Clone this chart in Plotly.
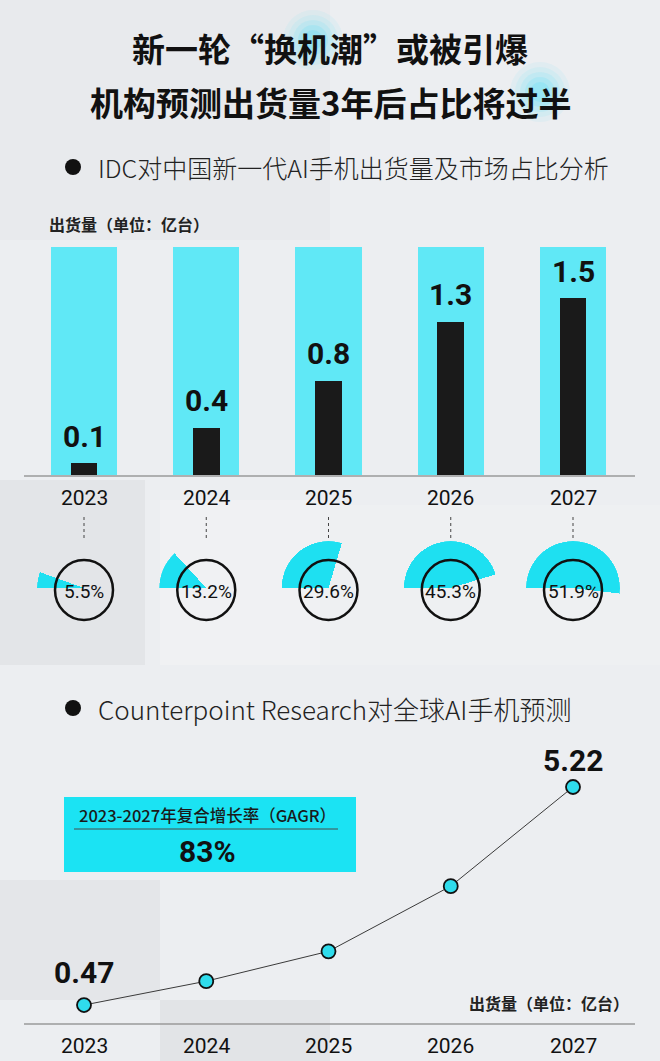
import plotly.graph_objects as go

W, H = 660, 1061

# ---------------- data ----------------
years = ["2023", "2024", "2025", "2026", "2027"]
idc_shipments = [0.1, 0.4, 0.8, 1.3, 1.5]          # 亿台
idc_share_pct = [5.5, 13.2, 29.6, 45.3, 51.9]       # %
cp_shipments = [0.47, 0.99, 1.64, 3.06, 5.22]       # 亿台
bg_bar_height = 1.93                                 # decorative full-height cyan bar
cagr_text = "83%"

title_1 = "新一轮“换机潮”或被引爆"
title_2 = "机构预测出货量3年后占比将过半"
section_1 = "IDC对中国新一代AI手机出货量及市场占比分析"
section_2 = "Counterpoint Research对全球AI手机预测"
unit_text = "出货量（单位：亿台）"
cagr_label = "2023-2027年复合增长率（GAGR）"

# ---------------- styles ----------------
CJK = "Noto Sans CJK SC"
COND = "Roboto"
CYAN_BG = "#60e8f6"
CYAN = "#1ee0f1"
BLACK = "#1a1a1a"
BG = "#eceef1"


def fy(px):
    return 1 - px / H


def fx(px):
    return px / W


X0, DX = 84, 122.25
xr = [-X0 / DX, -X0 / DX + W / DX]
idx = list(range(len(years)))

fig = go.Figure()

fig.add_trace(go.Bar(x=idx, y=[bg_bar_height] * len(years), width=0.54,
                     marker=dict(color=CYAN_BG, line=dict(width=0)),
                     hoverinfo="skip", xaxis="x", yaxis="y"))
fig.add_trace(go.Bar(x=idx, y=idc_shipments, width=0.22,
                     marker=dict(color=BLACK, line=dict(width=0)),
                     xaxis="x", yaxis="y"))

fig.add_trace(go.Scatter(x=idx, y=cp_shipments, mode="lines+markers",
                         line=dict(color="#3a3a3a", width=1),
                         marker=dict(size=14, color="#2fdcec", line=dict(color="#111", width=1.8)),
                         xaxis="x2", yaxis="y2"))

layout_polars = {}
for i, p in enumerate(idc_share_pct):
    name = "polar" if i == 0 else f"polar{i + 1}"
    span = p / 100 * 360
    fig.add_trace(go.Barpolar(r=[1], theta=[span / 2], width=[span],
                              marker=dict(color=CYAN, line=dict(width=0)),
                              subplot=name, hoverinfo="skip"))
    cx, cy, R = X0 + DX * i, 588, 47
    layout_polars[name] = dict(
        domain=dict(x=[fx(cx - R), fx(cx + R)], y=[fy(cy + R), fy(cy - R)]),
        bgcolor="rgba(0,0,0,0)",
        radialaxis=dict(visible=False, range=[0, 1]),
        angularaxis=dict(visible=False, rotation=180, direction="clockwise",
                         showgrid=False, showline=False),
    )

shapes = []
annotations = []


def ann(x, y, text, size, family=CJK, weight="normal", xanchor="center", xref="paper", color="#111"):
    annotations.append(dict(x=x, y=y, xref=xref, yref="paper", text=text, showarrow=False,
                            xanchor=xanchor, yanchor="middle",
                            font=dict(family=family, size=size, color=color, weight=weight)))


for (x0, y0, x1, y1, c) in [
    (0, 0, 330, 240, "#e8eaed"),
    (0, 480, 145, 665, "#e3e5e8"),
    (160, 500, 320, 665, "#f0f1f3"),
    (320, 505, 660, 665, "#eef0f2"),
    (0, 880, 160, 1000, "#e4e6e9"),
    (160, 1000, 330, 1061, "#e2e4e7"),
]:
    shapes.append(dict(type="rect", xref="paper", yref="paper", layer="below",
                       x0=fx(x0), x1=fx(x1), y0=fy(y1), y1=fy(y0),
                       fillcolor=c, line=dict(width=0)))

for gx, gy in [(313, 40), (540, 92)]:
    for r, a in [(30, 0.05), (25, 0.06), (20, 0.08), (15, 0.10), (10, 0.12)]:
        shapes.append(dict(type="circle", xref="paper", yref="paper", layer="below",
                           x0=fx(gx - r), x1=fx(gx + r), y0=fy(gy + r), y1=fy(gy - r),
                           fillcolor=f"rgba(0,215,255,{a})", line=dict(width=0)))

for yy in (476, 1024):
    shapes.append(dict(type="line", xref="paper", yref="paper", layer="above",
                       x0=fx(24), x1=fx(635), y0=fy(yy), y1=fy(yy),
                       line=dict(color="#9a9a9a", width=1.5)))

for i, (yr, p) in enumerate(zip(years, idc_share_pct)):
    cx = X0 + DX * i
    shapes.append(dict(type="line", xref="paper", yref="paper", layer="above",
                       x0=fx(cx), x1=fx(cx), y0=fy(517), y1=fy(541),
                       line=dict(color="#444", width=1, dash="dot")))
    shapes.append(dict(type="circle", xref="paper", yref="paper", layer="above",
                       x0=fx(cx - 29), x1=fx(cx + 29), y0=fy(590 + 30), y1=fy(590 - 30),
                       line=dict(color="#111", width=2.5), fillcolor="rgba(0,0,0,0)"))
    ann(i, fy(591), f"{p}%", 19, COND, xref="x")
    ann(i, fy(498), yr, 21, COND, xref="x")
    ann(i, fy(1046), yr, 21, COND, xref="x2")

for i, v in enumerate(idc_shipments):
    annotations.append(dict(x=i, y=v, xref="x", yref="y", text=f"{v}", showarrow=False,
                            yanchor="middle", yshift=27,
                            font=dict(family=COND, size=30, color="#111", weight="bold")))

annotations.append(dict(x=0, y=cp_shipments[0], xref="x2", yref="y2",
                        text=f"{cp_shipments[0]}", showarrow=False, yanchor="middle", yshift=33,
                        font=dict(family=COND, size=30, color="#111", weight="bold")))
annotations.append(dict(x=len(years) - 1, y=cp_shipments[-1], xref="x2", yref="y2",
                        text=f"{cp_shipments[-1]}", showarrow=False, yanchor="middle", yshift=27,
                        font=dict(family=COND, size=30, color="#111", weight="bold")))

shapes.append(dict(type="rect", xref="paper", yref="paper", layer="above",
                   x0=fx(64), x1=fx(356), y0=fy(872), y1=fy(797),
                   fillcolor="#1be3f3", line=dict(width=0)))
shapes.append(dict(type="line", xref="paper", yref="paper", layer="above",
                   x0=fx(74), x1=fx(338), y0=fy(829), y1=fy(829),
                   line=dict(color="#4a4a4a", width=1)))
ann(fx(207), fy(815), cagr_label, 16.5, CJK, weight=500, color="#1a1a1a")
ann(fx(207), fy(851), cagr_text, 30, COND, weight="bold")

ann(0.5, fy(48), title_1, 33, CJK, weight="bold")
ann(0.5, fy(102), title_2, 33, CJK, weight="bold")

for yy, txt, sz in [(167, section_1, 25), (708, section_2, 26)]:
    shapes.append(dict(type="circle", xref="paper", yref="paper", layer="above",
                       x0=fx(65), x1=fx(81), y0=fy(yy + 8), y1=fy(yy - 8),
                       fillcolor="#111", line=dict(width=0)))
    ann(fx(96), fy(yy), txt, sz, CJK, weight=300, xanchor="left", color="#222")

ann(fx(47), fy(224), unit_text, 16, CJK, weight="bold", xanchor="left", color="#222")
ann(fx(631), fy(1003), unit_text, 16, CJK, weight="bold", xanchor="right", color="#222")

fig.update_layout(
    width=W, height=H, margin=dict(l=0, r=0, t=0, b=0),
    paper_bgcolor=BG, plot_bgcolor="rgba(0,0,0,0)",
    showlegend=False, barmode="overlay", bargap=0,
    xaxis=dict(domain=[0, 1], range=xr, visible=False, anchor="y"),
    yaxis=dict(domain=[fy(475), fy(240)], range=[0, 235 / 118], visible=False, anchor="x"),
    xaxis2=dict(domain=[0, 1], range=xr, visible=False, anchor="y2"),
    yaxis2=dict(domain=[fy(1026.6), fy(740)], range=[0, 286.6 / 45.9], visible=False, anchor="x2"),
    shapes=shapes, annotations=annotations,
    **layout_polars,
)

fig.write_html("out.html")
